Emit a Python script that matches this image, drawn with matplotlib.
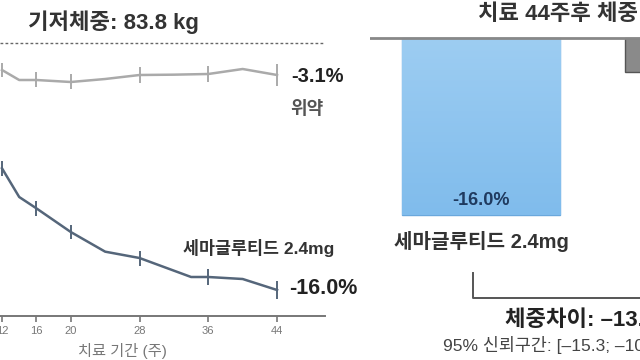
import numpy as np
import matplotlib
matplotlib.use('Agg')
import matplotlib.pyplot as plt
from matplotlib.lines import Line2D

plt.rcParams['font.family'] = ['Liberation Sans', 'Noto Sans CJK KR', 'DejaVu Sans']

# data
weeks_placebo = [12, 14, 16, 20, 24, 28, 32, 36, 40, 44]
placebo = [-2.8, -3.4, -3.4, -3.52, -3.34, -3.1, -3.08, -3.04, -2.74, -3.1]
weeks_sema = [12, 14, 16, 20, 24, 28, 34, 36, 40, 44]
sema = [-8.7, -10.42, -11.1, -12.52, -13.7, -14.08, -15.22, -15.22, -15.34, -16.0]
err_weeks = [12, 16, 20, 28, 36, 44]
err_placebo = [0.4, 0.45, 0.45, 0.45, 0.5, 0.65]
err_sema = [0.45, 0.45, 0.45, 0.45, 0.5, 0.55]
tick_weeks = [12, 16, 20, 28, 36, 44]

bar_names = ['세마글루티드 2.4mg', '위약']
bar_values = [-16.0, -3.1]

W, H = 640, 360


def fx(x):
    return x / W


def fy(y):
    return 1 - y / H


fig = plt.figure(figsize=(6.4, 3.6), dpi=100)

# left: line chart
ax1 = fig.add_axes([0, fy(316), fx(325), 316 / H])
ax1.set_xlim(11.767, 49.58)
ax1.set_ylim(-17.56, 1.40)
for s in ['top', 'right', 'left']:
    ax1.spines[s].set_visible(False)
ax1.spines['bottom'].set_color('#777777')
ax1.spines['bottom'].set_linewidth(1.4)
ax1.set_yticks([])
ax1.set_xticks(tick_weeks)
ax1.set_xticklabels([str(w) for w in tick_weeks])
ax1.tick_params(axis='x', length=4, width=1.2, color='#777777',
                labelsize=8, labelcolor='#777777', pad=3)
ax1.set_xlabel('치료 기간 (주)', fontsize=11, color='#777777', labelpad=1)
ax1.xaxis.set_label_coords(fx(122) / fx(325), -0.085)

ax1.axhline(-1.2, color='#666666', ls=(0, (2, 1.6)), lw=1.0)

pl_col = '#aaaaaa'
se_col = '#55667a'
ax1.plot(weeks_placebo, placebo, color=pl_col, lw=1.8, clip_on=False)
ax1.plot(weeks_sema, sema, color=se_col, lw=1.8, clip_on=False)
pe = [placebo[weeks_placebo.index(w)] for w in err_weeks]
se = [sema[weeks_sema.index(w)] for w in err_weeks]
ax1.errorbar(err_weeks, pe, yerr=err_placebo, fmt='none', ecolor=pl_col, elinewidth=1.4)
ax1.errorbar(err_weeks, se, yerr=err_sema, fmt='none', ecolor=se_col, elinewidth=1.4)

fig.text(fx(28), fy(22), '기저체중: 83.8 kg', fontsize=16, fontweight='bold',
         color='#333333', va='center')
fig.text(fx(291), fy(77), '-3.1%', fontsize=14.5, fontweight='bold',
         color='#222222', va='center')
fig.text(fx(290), fy(110), '위약', fontsize=13, fontweight='bold',
         color='#555555', va='center')
fig.text(fx(183), fy(248), '세마글루티드 2.4mg', fontsize=12.5, fontweight='bold',
         color='#333333', va='center')
fig.text(fx(289), fy(289), '-16.0%', fontsize=15.5, fontweight='bold',
         color='#222222', va='center')

# right: bars
ax2 = fig.add_axes([fx(370), fy(230), fx(270), 200 / H])
ax2.axis('off')
bw = 0.709
bars = ax2.bar([0, 1], bar_values, width=bw, color=['#8cc2ee', '#8a8a8a'],
               edgecolor=['#6aa8dc', '#555555'], lw=1.0, zorder=2)
grad = np.linspace(0, 1, 100).reshape(-1, 1)
cmap = matplotlib.colors.LinearSegmentedColormap.from_list('b', ['#9dcdf2', '#80bcec'])
im = ax2.imshow(grad, cmap=cmap, aspect='auto', extent=[-bw / 2, bw / 2, bar_values[0], 0],
                zorder=2.5, origin='upper')
im.set_clip_path(bars[0])
ax2.set_xlim(-0.498, 0.713)
ax2.set_ylim(-17.36, 0.72)
ax2.axhline(0, color='#888888', lw=2, zorder=3)
ax2.text(0, bar_values[0] + 1.35, '%.1f%%' % bar_values[0], ha='center', va='center',
         fontsize=13, fontweight='bold', color='#1f3a5f', zorder=4)

fig.text(fx(481), fy(241), bar_names[0], ha='center', va='center', fontsize=14.5,
         fontweight='bold', color='#333333')
fig.text(fx(478), fy(15), '치료 44주후 체중', fontsize=16, fontweight='bold',
         color='#333333', va='center')

fig.add_artist(Line2D([fx(473), fx(473), fx(645)], [fy(273), fy(298), fy(298)],
                      color='#555555', lw=1.4))
fig.text(fx(505), fy(321), '체중차이: –13.0%', fontsize=16, fontweight='bold',
         color='#222222', va='center')
fig.text(fx(443), fy(345), '95% 신뢰구간: [–15.3; –10.7]', fontsize=12.5,
         color='#444444', va='center')

fig.savefig('out.png', dpi=100)
